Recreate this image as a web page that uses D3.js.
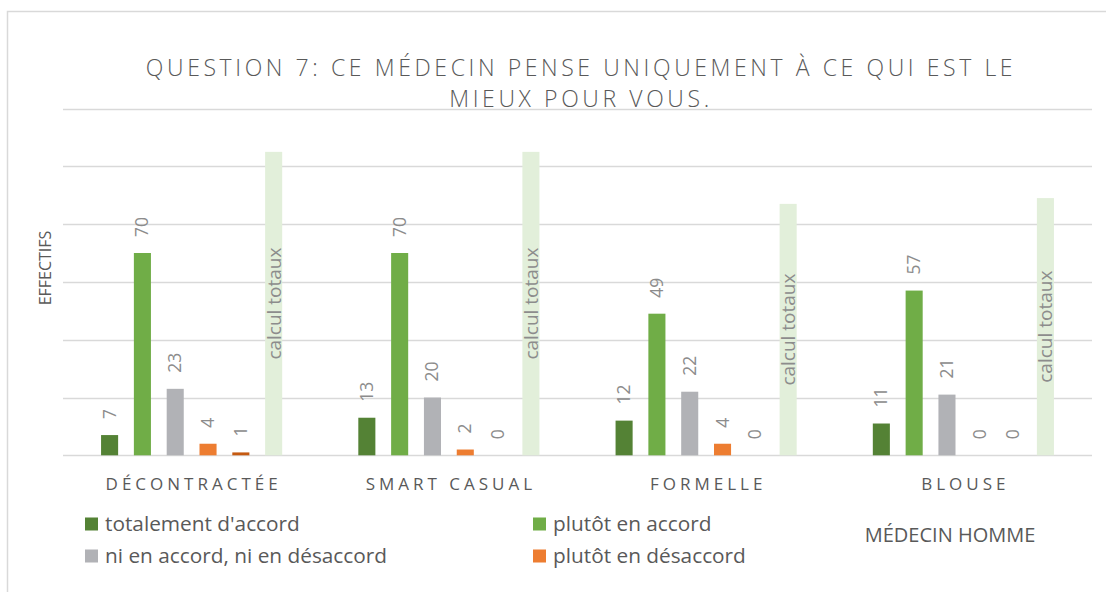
<!DOCTYPE html>
<html>
<head>
<meta charset="utf-8">
<script src="https://cdn.jsdelivr.net/npm/d3@7"></script>
<style>
  html, body { margin: 0; padding: 0; background: #ffffff; }
  svg { display: block; }
  text { font-family: "Open Sans", "Liberation Sans", sans-serif; }
</style>
</head>
<body>
<svg id="chart" width="1106" height="592"></svg>
<script>
// Categories (tenue du médecin) and series values
const categories = ["DÉCONTRACTÉE", "SMART CASUAL", "FORMELLE", "BLOUSE"];
const seriesNames = [
  "totalement d'accord",
  "plutôt en accord",
  "ni en accord, ni en désaccord",
  "plutôt en désaccord",
  "totalement en désaccord",
  "calcul totaux"
];
const totalementDaccord = [7, 13, 12, 11];
const plutotEnAccord = [70, 70, 49, 57];
const niEnAccordNiEnDesaccord = [23, 20, 22, 21];
const plutotEnDesaccord = [4, 2, 4, 0];
const totalementEnDesaccord = [1, 0, 0, 0];
const calculTotaux = [105, 105, 87, 89];
const yTicks = [0, 20, 40, 60, 80, 100, 120];
const seriesColors = ["#548235", "#70ad47", "#b1b2b6", "#ed7d31", "#c55a11", "#e2efda"];
const legendSeries = [0, 1, 2, 3];

const seriesValues = [
  totalementDaccord,
  plutotEnAccord,
  niEnAccordNiEnDesaccord,
  plutotEnDesaccord,
  totalementEnDesaccord,
  calculTotaux
];

const svg = d3.select("#chart");

// chart frame
svg.append("rect")
  .attr("x", 7.5).attr("y", 11.5)
  .attr("width", 1110).attr("height", 600)
  .attr("fill", "none").attr("stroke", "#d9d9d9").attr("stroke-width", 1.5);

const plot = { left: 63, right: 1092, top: 108.5, bottom: 455.3 };

const x0 = d3.scaleBand().domain(categories).range([plot.left, plot.right]).padding(0);
const x1 = d3.scaleBand().domain(d3.range(seriesNames.length))
  .range([0, x0.bandwidth()]).paddingInner(0.48).paddingOuter(1.16);
const y = d3.scaleLinear().domain([0, 120]).range([plot.bottom, plot.top]);

// gridlines
svg.append("g")
  .selectAll("line")
  .data(yTicks)
  .join("line")
  .attr("x1", plot.left).attr("x2", plot.right)
  .attr("y1", d => Math.round(y(d)) + 0.5).attr("y2", d => Math.round(y(d)) + 0.5)
  .attr("stroke", "#d9d9d9").attr("stroke-width", 1.5);

// title
const title = svg.append("text")
  .attr("text-anchor", "middle")
  .attr("fill", "#595959")
  .style("font-size", "23px")
  .style("font-weight", 300)
  .style("letter-spacing", "3.6px");
title.append("tspan").attr("x", 581).attr("y", 76)
  .text("QUESTION 7: CE MÉDECIN PENSE UNIQUEMENT À CE QUI EST LE");
title.append("tspan").attr("x", 581).attr("y", 107)
  .text("MIEUX POUR VOUS.");

// y axis title
svg.append("text")
  .attr("transform", "translate(51,268) rotate(-90)")
  .attr("text-anchor", "middle")
  .attr("fill", "#595959")
  .style("font-size", "16px")
  .text("EFFECTIFS");

// bars
const groups = svg.append("g")
  .selectAll("g")
  .data(categories)
  .join("g")
  .attr("transform", d => `translate(${x0(d)},0)`);

groups.each(function (cat, ci) {
  const g = d3.select(this);
  seriesValues.forEach((vals, si) => {
    const v = vals[ci];
    const bx = x1(si);
    const bw = x1.bandwidth();
    if (v > 0) {
      g.append("rect")
        .attr("x", bx).attr("width", bw)
        .attr("y", y(v)).attr("height", y(0) - y(v))
        .attr("fill", seriesColors[si]);
    }
    if (si < 5) {
      // value label, rotated, above the bar
      g.append("text")
        .attr("transform", `translate(${bx + bw / 2 + 6},${y(v) - 16}) rotate(-90)`)
        .attr("fill", "#8c8c8c")
        .style("font-size", "17.5px")
        .text(v);
    } else {
      // series name in the middle of the totals bar
      g.append("text")
        .attr("transform", `translate(${bx + bw / 2 + 7},${(y(v) + y(0)) / 2}) rotate(-90)`)
        .attr("text-anchor", "middle")
        .attr("fill", "#8c8c8c")
        .style("font-size", "19px")
        .text(seriesNames[si]);
    }
  });
});

// category axis labels
svg.append("g")
  .selectAll("text")
  .data(categories)
  .join("text")
  .attr("x", d => x0(d) + x0.bandwidth() / 2 + 2)
  .attr("y", 490)
  .attr("text-anchor", "middle")
  .attr("fill", "#595959")
  .style("font-size", "17px")
  .style("letter-spacing", "4px")
  .text(d => d);

// legend
const legendPos = [[85, 524], [533, 524], [85, 556], [533, 556]];
const legend = svg.append("g")
  .selectAll("g")
  .data(legendSeries)
  .join("g")
  .attr("transform", (d, i) => `translate(${legendPos[i][0]},${legendPos[i][1]})`);
legend.append("rect")
  .attr("x", 0).attr("y", -6.5).attr("width", 13).attr("height", 13)
  .attr("fill", d => seriesColors[d]);
legend.append("text")
  .attr("x", 20).attr("y", 6.5)
  .attr("fill", "#595959")
  .style("font-size", "20.8px")
  .text(d => seriesNames[d]);

svg.append("text")
  .attr("x", 950).attr("y", 542)
  .attr("text-anchor", "middle")
  .attr("fill", "#595959")
  .style("font-size", "20px")
  .text("MÉDECIN HOMME");
</script>
</body>
</html>
